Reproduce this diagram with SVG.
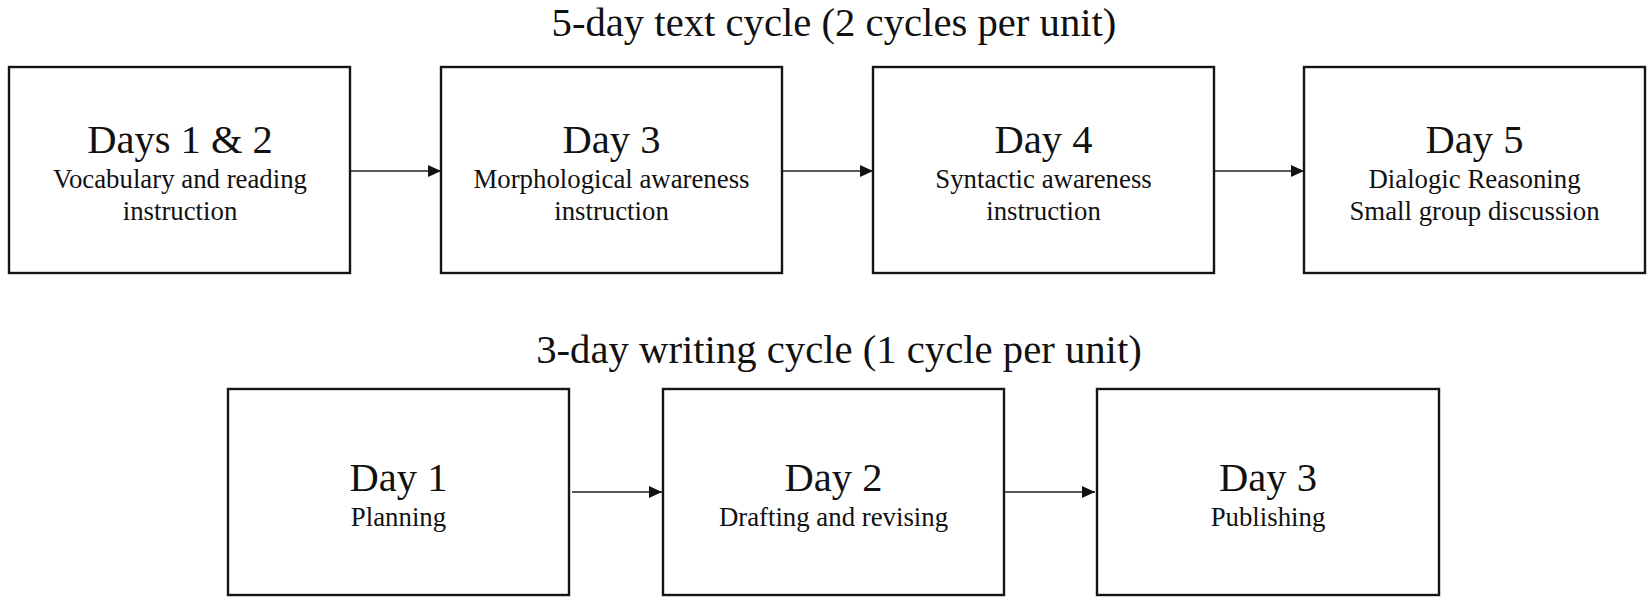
<svg xmlns="http://www.w3.org/2000/svg" width="1648" height="603" viewBox="0 0 1648 603">
  <style>
    text { font-family: "Liberation Serif", "Times New Roman", serif; fill: #111; text-anchor: middle; }
    .title { font-size: 40.7px; }
    .head { font-size: 40.5px; }
    .sub { font-size: 26.8px; }
    .box { fill: #fff; stroke: #151515; stroke-width: 2.4; }
    .conn { stroke: #222; stroke-width: 1.5; fill: none; }
  </style>
  <defs>
    <marker id="arrow" markerUnits="userSpaceOnUse" markerWidth="14" markerHeight="12" refX="13" refY="6" orient="auto">
      <path d="M0,0 L13,6 L0,12 z" fill="#111"/>
    </marker>
  </defs>
  <rect width="1648" height="603" fill="#fff"/>

  <text class="title" x="834" y="36">5-day text cycle (2 cycles per unit)</text>
  <text class="title" x="839" y="363">3-day writing cycle (1 cycle per unit)</text>

  <g id="connectors">
    <line class="conn" x1="351" y1="171" x2="441" y2="171" marker-end="url(#arrow)"/>
    <line class="conn" x1="783" y1="171" x2="873" y2="171" marker-end="url(#arrow)"/>
    <line class="conn" x1="1215" y1="171" x2="1304" y2="171" marker-end="url(#arrow)"/>
    <line class="conn" x1="572" y1="492" x2="662" y2="492" marker-end="url(#arrow)"/>
    <line class="conn" x1="1004" y1="492" x2="1095" y2="492" marker-end="url(#arrow)"/>
  </g>

  <g id="days12">
    <rect class="box" x="9" y="67" width="341" height="206"/>
    <text class="head" x="180" y="153">Days 1 &amp; 2</text>
    <text class="sub" x="180" y="188">Vocabulary and reading</text>
    <text class="sub" x="180" y="220">instruction</text>
  </g>
  <g id="day3">
    <rect class="box" x="441" y="67" width="341" height="206"/>
    <text class="head" x="611.5" y="153">Day 3</text>
    <text class="sub" x="611.5" y="188">Morphological awareness</text>
    <text class="sub" x="611.5" y="220">instruction</text>
  </g>
  <g id="day4">
    <rect class="box" x="873" y="67" width="341" height="206"/>
    <text class="head" x="1043.5" y="153">Day 4</text>
    <text class="sub" x="1043.5" y="188">Syntactic awareness</text>
    <text class="sub" x="1043.5" y="220">instruction</text>
  </g>
  <g id="day5">
    <rect class="box" x="1304" y="67" width="341" height="206"/>
    <text class="head" x="1474.5" y="153">Day 5</text>
    <text class="sub" x="1474.5" y="188">Dialogic Reasoning</text>
    <text class="sub" x="1474.5" y="220">Small group discussion</text>
  </g>

  <g id="wday1">
    <rect class="box" x="228" y="389" width="341" height="206"/>
    <text class="head" x="398.5" y="491">Day 1</text>
    <text class="sub" x="398.5" y="526">Planning</text>
  </g>
  <g id="wday2">
    <rect class="box" x="663" y="389" width="341" height="206"/>
    <text class="head" x="833.5" y="491">Day 2</text>
    <text class="sub" x="833.5" y="526">Drafting and revising</text>
  </g>
  <g id="wday3">
    <rect class="box" x="1097" y="389" width="342" height="206"/>
    <text class="head" x="1268" y="491">Day 3</text>
    <text class="sub" x="1268" y="526">Publishing</text>
  </g>
</svg>
